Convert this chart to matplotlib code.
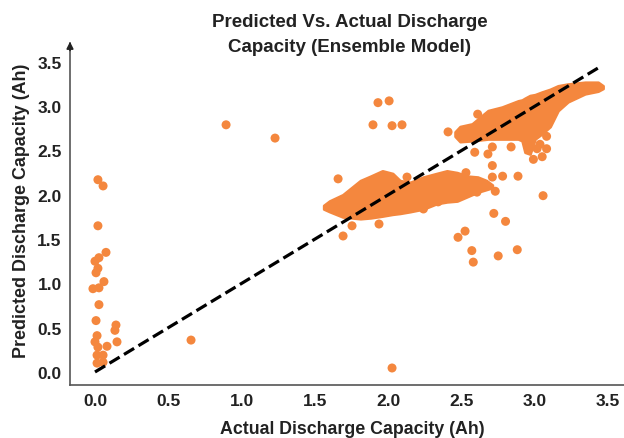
import matplotlib
matplotlib.use("Agg")
import matplotlib.pyplot as plt

# ---- data ----
# dense cluster 1 envelope (actual x, predicted lower/upper)
cluster1_x = [1.56, 1.60, 1.69, 1.81, 1.88, 1.96, 2.03, 2.08, 2.15, 2.24, 2.33, 2.40, 2.47, 2.54, 2.61, 2.67, 2.71]
cluster1_upper = [1.88, 1.93, 2.00, 2.16, 2.21, 2.27, 2.24, 2.16, 2.14, 2.20, 2.24, 2.27, 2.25, 2.21, 2.20, 2.16, 2.11]
cluster1_lower = [1.84, 1.81, 1.75, 1.73, 1.74, 1.76, 1.78, 1.79, 1.81, 1.84, 1.90, 1.92, 1.93, 1.98, 2.03, 2.06, 2.08]

# dense cluster 2 envelope
cluster2_x = [2.456, 2.490, 2.572, 2.681, 2.776, 2.886, 2.913, 2.933, 2.967, 3.001, 3.049, 3.104, 3.158, 3.226, 3.342, 3.431, 3.465]
cluster2_upper = [2.71, 2.77, 2.80, 2.95, 2.99, 3.06, 3.07, 3.09, 3.12, 3.13, 3.16, 3.19, 3.23, 3.25, 3.27, 3.27, 3.23]
cluster2_lower = [2.66, 2.60, 2.61, 2.63, 2.63, 2.63, 2.61, 2.48, 2.46, 2.63, 2.69, 2.77, 2.95, 3.05, 3.14, 3.17, 3.20]

# individual points
actual = [0.02, 0.055, 0.02, 0.075, 0.0, 0.027, 0.02, 0.007, 0.061, -0.014, 0.027, 0.027, 0.007,
          0.143, 0.136, 0.014, 0.0, 0.15, 0.082, 0.02, 0.014, 0.055, 0.014, 0.055, 0.655,
          0.894, 1.228, 2.026,
          1.93, 2.006, 1.896, 2.026, 2.094,
          1.658, 1.692, 1.753, 1.937, 2.128, 2.24, 2.34,
          2.408, 2.61, 2.53, 2.59, 2.68, 2.71, 2.71, 2.71, 2.78, 2.885, 2.73, 2.605, 3.056,
          2.838, 2.72, 2.80, 2.476, 2.524, 2.57, 2.58, 2.75, 2.88, 2.99, 3.05, 3.08, 3.035,
          3.08, 3.015]
predicted = [2.17, 2.10, 1.65, 1.35, 1.25, 1.29, 1.17, 1.12, 1.02, 0.94, 0.95, 0.76, 0.58,
             0.53, 0.47, 0.41, 0.34, 0.34, 0.29, 0.28, 0.19, 0.19, 0.10, 0.11, 0.36,
             2.79, 2.64, 0.045,
             3.04, 3.06, 2.79, 2.78, 2.79,
             2.18, 1.535, 1.65, 1.67, 2.20, 1.84, 1.92,
             2.71, 2.91, 2.25, 2.48, 2.46, 2.54, 2.33, 2.20, 2.21, 2.21, 2.04, 2.03, 1.99,
             2.54, 1.79, 1.70, 1.52, 1.59, 1.37, 1.24, 1.31, 1.38, 2.40, 2.43, 2.66, 2.57,
             2.52, 2.52]

ideal_x = [0.0, 3.45]
ideal_y = [0.0, 3.45]

xticks = [0.0, 0.5, 1.0, 1.5, 2.0, 2.5, 3.0, 3.5]
yticks = [0.0, 0.5, 1.0, 1.5, 2.0, 2.5, 3.0, 3.5]

# ---- figure ----
plt.rcParams['font.family'] = ['Liberation Sans', 'DejaVu Sans']
orange = '#F4873E'
txt = '#222222'

fig = plt.figure(figsize=(6.24, 4.39), dpi=100)
ax = fig.add_axes([70/624, 1-386/439, 1-70/624, (386-44)/439])

for cx, lo, hi in [(cluster1_x, cluster1_lower, cluster1_upper),
                   (cluster2_x, cluster2_lower, cluster2_upper)]:
    poly = ax.fill_between(cx, lo, hi, facecolor=orange, edgecolor=orange, lw=2.0, zorder=2)
    poly.set_joinstyle('round')
ax.scatter(actual, predicted, s=42, color=orange, edgecolors='none', zorder=3)
ax.plot(ideal_x, ideal_y, color='black', lw=2.3, ls='--', zorder=4)

ax.set_xlim(-0.1705, 3.608)
ax.set_ylim(-0.147, (373-44)/88.6)
ax.set_xticks(xticks)
ax.set_yticks(yticks)
ax.set_xticklabels([f"{t:.1f}" for t in xticks])
ax.set_yticklabels([f"{t:.1f}" for t in yticks])
ax.tick_params(length=0, labelsize=12.5, colors=txt, pad=6)
for lab in ax.get_xticklabels() + ax.get_yticklabels():
    lab.set_fontweight('bold')

for s in ['top', 'right']:
    ax.spines[s].set_visible(False)
for s in ['left', 'bottom']:
    ax.spines[s].set_color('#555555')
    ax.spines[s].set_linewidth(1.2)

# arrow at the top of the y axis
ax.annotate('', xy=(0, 1.012), xycoords='axes fraction', xytext=(0, 0.97),
            arrowprops=dict(arrowstyle='-|>', color=txt, lw=1.2, mutation_scale=10),
            annotation_clip=False)

fig.text(350/624, 1-14/439, 'Predicted Vs. Actual Discharge\nCapacity (Ensemble Model)',
         ha='center', va='top', fontsize=13.5, fontweight='bold', color=txt, linespacing=1.62)
fig.text(352/624, 1-430/439, 'Actual Discharge Capacity (Ah)', ha='center', va='center',
         fontsize=12.8, fontweight='bold', color=txt)
fig.text(22/624, 1-211/439, 'Predicted Discharge Capacity (Ah)', ha='center', va='center',
         rotation=90, fontsize=12.9, fontweight='bold', color=txt)

fig.savefig('out.png', dpi=100)
